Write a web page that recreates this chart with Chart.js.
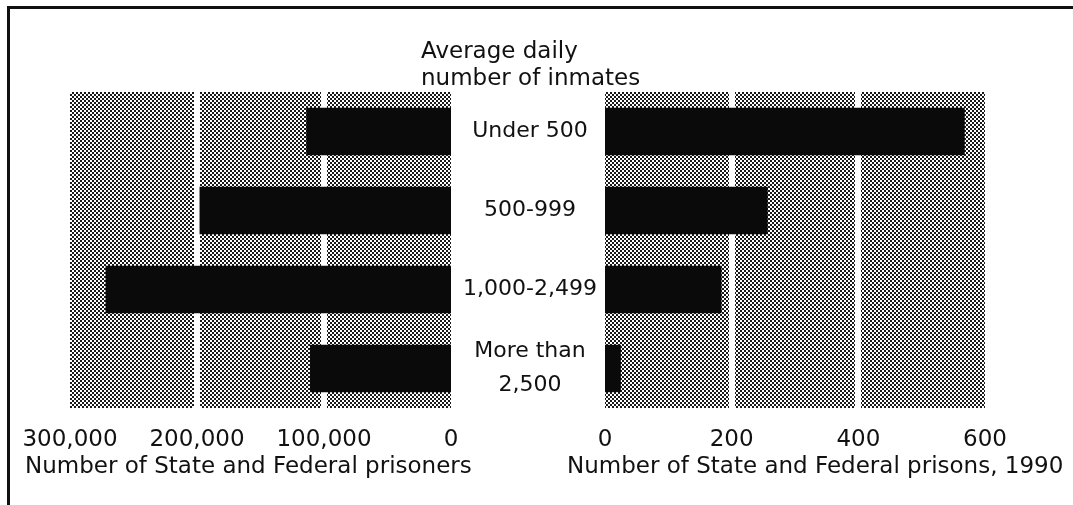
<!DOCTYPE html>
<html>
<head>
<meta charset="utf-8">
<script src="https://cdn.jsdelivr.net/npm/chart.js@4.4.0/dist/chart.umd.min.js"></script>
<style>
  html, body { margin: 0; padding: 0; background: #fff; }
  body { width: 1073px; height: 505px; position: relative; overflow: hidden; font-family: "DejaVu Sans", sans-serif; }
  #frame { position: absolute; left: 7px; top: 6px; right: 0; bottom: 0; border-top: 3px solid #111; border-left: 3px solid #111; }
  .txt { position: absolute; font-size: 23px; line-height: 27px; color: #111; white-space: nowrap; }
  #heading { left: 421px; top: 37px; }
  #leftTitle { left: 25px; top: 452px; }
  #rightTitle { left: 567px; top: 452px; }
  #left { position: absolute; left: 0; top: 0; }
  #right { position: absolute; left: 530px; top: 0; }
</style>
</head>
<body>
<div id="frame"></div>
<canvas id="left" width="605" height="505"></canvas>
<canvas id="right" width="543" height="505"></canvas>
<div id="heading" class="txt">Average daily<br>number of inmates</div>
<div id="leftTitle" class="txt">Number of State and Federal prisoners</div>
<div id="rightTitle" class="txt">Number of State and Federal prisons, 1990</div>
<script>
// prisons by average daily number of inmates, 1990
const categories = ['Under 500', '500-999', '1,000-2,499', ['More than', '2,500']];
const prisoners = [114000, 198000, 272000, 111000];
const prisons = [568, 257, 184, 25];
const prisonerTicks = [0, 100000, 200000, 300000];
const prisonTicks = [0, 200, 400, 600];

Chart.defaults.font.family = '"DejaVu Sans", sans-serif';
Chart.defaults.font.size = 23;
Chart.defaults.color = '#111';

// dotted gray screen like the printed original
function makeScreen() {
    const c = document.createElement('canvas');
    c.width = 4;
    c.height = 4;
    const g = c.getContext('2d');
    g.fillStyle = '#ffffff';
    g.fillRect(0, 0, 4, 4);
    g.fillStyle = '#1a1a1a';
    g.fillRect(0, 0, 2, 2);
    g.fillRect(2, 2, 2, 2);
    return g.createPattern(c, 'repeat');
}

const screenBg = {
    id: 'screenBg',
    beforeDraw(chart) {
        const a = chart.chartArea;
        const ctx = chart.ctx;
        ctx.save();
        ctx.fillStyle = makeScreen();
        ctx.fillRect(a.left, a.top, a.right - a.left, a.bottom - a.top);
        ctx.restore();
    }
};

function xAxis(tickValues, reverse) {
    const last = tickValues[tickValues.length - 1];
    // no white line on the outer edges of the screen
    const isEdge = ctx => ctx.tick && (ctx.tick.value === tickValues[0] || ctx.tick.value === last);
    return {
        type: 'linear',
        position: 'bottom',
        reverse: reverse,
        min: tickValues[0],
        max: last,
        afterBuildTicks: s => { s.ticks = tickValues.map(v => ({ value: v })); },
        afterFit: s => { s.height = 97; },
        grid: {
            drawTicks: false,
            lineWidth: ctx => isEdge(ctx) ? 0 : 6,
            color: '#ffffff'
        },
        border: { display: false },
        ticks: {
            padding: 18,
            callback: v => v.toLocaleString('en-US')
        }
    };
}

new Chart(document.getElementById('left'), {
    type: 'bar',
    data: {
        labels: categories,
        datasets: [{
            data: prisoners,
            backgroundColor: '#0a0a0a',
            barPercentage: 0.6,
            categoryPercentage: 1
        }]
    },
    options: {
        indexAxis: 'y',
        responsive: false,
        animation: false,
        layout: { padding: { left: 70, top: 92, right: 0, bottom: 0 } },
        plugins: { legend: { display: false }, tooltip: { enabled: false } },
        scales: {
            x: xAxis(prisonerTicks, true),
            y: {
                position: 'right',
                afterFit: s => { s.width = 154; },
                grid: { display: false },
                border: { display: false },
                ticks: {
                    crossAlign: 'center',
                    padding: 4,
                    font: { size: 22, lineHeight: 1.55 }
                }
            }
        }
    },
    plugins: [screenBg]
});

new Chart(document.getElementById('right'), {
    type: 'bar',
    data: {
        labels: categories,
        datasets: [{
            data: prisons,
            backgroundColor: '#0a0a0a',
            barPercentage: 0.6,
            categoryPercentage: 1
        }]
    },
    options: {
        indexAxis: 'y',
        responsive: false,
        animation: false,
        layout: { padding: { left: 75, top: 92, right: 88, bottom: 0 } },
        plugins: { legend: { display: false }, tooltip: { enabled: false } },
        scales: {
            x: xAxis(prisonTicks, false),
            y: { display: false }
        }
    },
    plugins: [screenBg]
});
</script>
</body>
</html>
